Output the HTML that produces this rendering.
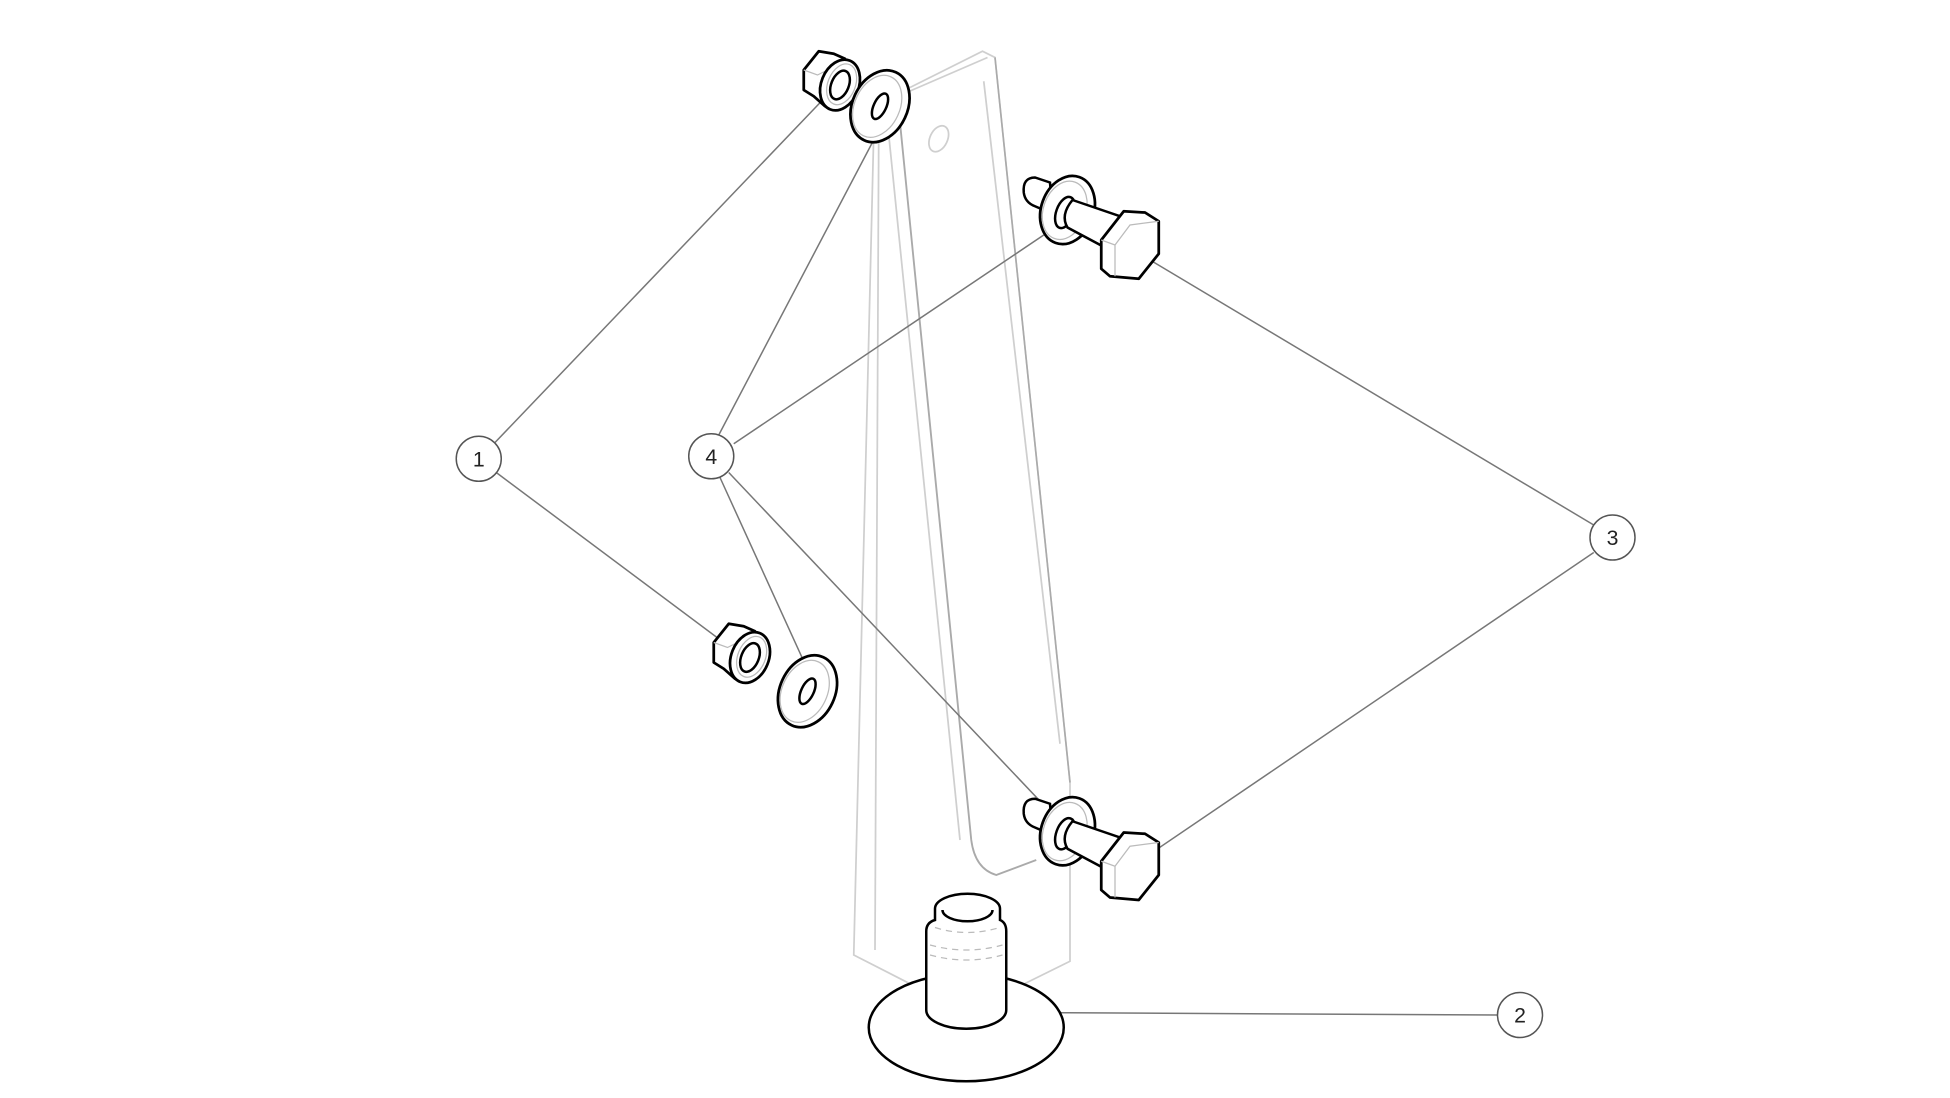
<!DOCTYPE html>
<html><head><style>html,body{margin:0;padding:0;background:#fff;width:1950px;height:1098px;overflow:hidden}</style></head>
<body>
<svg width="1950" height="1098" viewBox="0 0 1560 878.4" xmlns="http://www.w3.org/2000/svg">
<defs>
<g id="nut">
  <path d="M-12,17 L-21,9 L-29,4 L-29,-12 L-17,-27 L-5,-25 L4,-21 L4,10 Z" fill="#fff" stroke="#000" stroke-width="2.2" stroke-linejoin="round"/>
  <path d="M-29,-12 L-18,-8 L-10,-12" fill="none" stroke="#bbb" stroke-width="1"/>
  <ellipse cx="0" cy="0" rx="15" ry="21" transform="rotate(22)" fill="#fff" stroke="#000" stroke-width="2.2"/>
  <ellipse cx="1" cy="-1" rx="11" ry="17" transform="rotate(22)" fill="none" stroke="#bbb" stroke-width="1"/>
  <ellipse cx="0" cy="0" rx="7" ry="12" transform="rotate(22)" fill="none" stroke="#000" stroke-width="2"/>
</g>
<g id="washer">
  <ellipse cx="0" cy="0" rx="22" ry="30" transform="rotate(25)" fill="#fff" stroke="#000" stroke-width="2.2"/>
  <ellipse cx="-2" cy="1" rx="18" ry="26" transform="rotate(25)" fill="none" stroke="#bbb" stroke-width="1"/>
  <ellipse cx="0" cy="0" rx="5" ry="11" transform="rotate(25)" fill="none" stroke="#000" stroke-width="2"/>
</g>
<g id="bolt">
  <path d="M-14,-22 L-26,-26 Q-36,-26 -35,-14 Q-34,-6 -26,-3 L-12,3 Z" fill="#fff" stroke="#000" stroke-width="2"/>
  <ellipse cx="0" cy="0" rx="21" ry="28" transform="rotate(20)" fill="#fff" stroke="#000" stroke-width="2.2"/>
  <ellipse cx="-2" cy="1" rx="17" ry="24" transform="rotate(20)" fill="none" stroke="#bbb" stroke-width="1"/>
  <ellipse cx="-2" cy="2" rx="7" ry="13" transform="rotate(20 -2 2)" fill="#fff" stroke="#000" stroke-width="2"/>
  <path d="M4,-8 L42,5 L30,30 L0,14 Q-6,4 4,-8 Z" fill="#fff" stroke="#000" stroke-width="2"/>
  <path d="M27,24 L45,1 L62,2 L73,9 L73,35 L57,55 L34,53 L27,47 Z" fill="#fff" stroke="#000" stroke-width="2.2" stroke-linejoin="round"/>
  <path d="M27,24 L38,28 L50,12 L73,9 M38,28 L38,53" fill="none" stroke="#bbb" stroke-width="1"/>
</g>
</defs>
<!-- plate -->
<g fill="none" stroke="#cfcfcf" stroke-width="1.4">
  <path d="M728,70 L786,41 L796,46 L856,626 L856,769 L773,810 L683,764 L699,106"/>
  <path d="M716,78 L790,46"/>
  <path d="M787,65 L848,595"/>
  <path d="M709,88 L768,672"/>
  <path d="M703,104 L700,760"/>
  <ellipse cx="751" cy="111" rx="7" ry="11" transform="rotate(25 751 111)"/>
</g>
<path d="M719,88 L777,672 Q780,695 797,700 L829,688" fill="none" stroke="#aaa" stroke-width="1.5"/>
<path d="M796,46 L856,626" fill="none" stroke="#aaa" stroke-width="1.3"/>
<!-- leaders -->
<g stroke="#777" stroke-width="1.2" fill="none">
  <line x1="396" y1="354" x2="660" y2="78"/>
  <line x1="397" y1="378" x2="587" y2="520"/>
  <line x1="575" y1="348" x2="700" y2="110"/>
  <line x1="587" y1="355" x2="835" y2="188"/>
  <line x1="576" y1="382" x2="648" y2="540"/>
  <line x1="583" y1="378" x2="852" y2="662"/>
  <line x1="1275" y1="420" x2="915" y2="205"/>
  <line x1="1275" y1="442" x2="910" y2="690"/>
  <line x1="1198" y1="812" x2="808" y2="810"/>
</g>
<!-- parts -->
<use href="#nut" x="672" y="68"/>
<use href="#washer" x="704" y="85"/>
<use href="#nut" x="600" y="526"/>
<use href="#washer" x="646" y="553"/>
<use href="#bolt" x="854" y="168"/>
<use href="#bolt" x="854" y="665"/>
<!-- pin -->
<g stroke="#000" stroke-width="2" fill="#fff">
  <ellipse cx="773" cy="822" rx="78" ry="43"/>
  <path d="M741,745 L741,808 A32,15 0 0 0 805,808 L805,745 Q805,738 800,736 L800,727 A26,12 0 0 0 748,727 L748,736 Q741,738 741,745 Z"/>
  <path d="M754,728 A20,9 0 0 0 794,728" fill="none"/>
</g>
<g stroke="#bbb" stroke-width="1" fill="none" stroke-dasharray="5 4">
  <path d="M748,742 Q773,750 800,742 M744,756 Q773,764 802,756 M744,764 Q773,772 802,764"/>
</g>
<!-- callouts -->
<g fill="#fff" stroke="#555" stroke-width="1.2">
  <circle cx="383" cy="367" r="18"/>
  <circle cx="569" cy="365" r="18"/>
  <circle cx="1290" cy="430" r="18"/>
  <circle cx="1216" cy="812" r="18"/>
</g>
<g fill="#222" font-family="Liberation Sans, sans-serif" font-size="17" text-anchor="middle">
  <text x="383" y="373">1</text>
  <text x="569" y="371">4</text>
  <text x="1290" y="436">3</text>
  <text x="1216" y="818">2</text>
</g>
</svg>
</body></html>
